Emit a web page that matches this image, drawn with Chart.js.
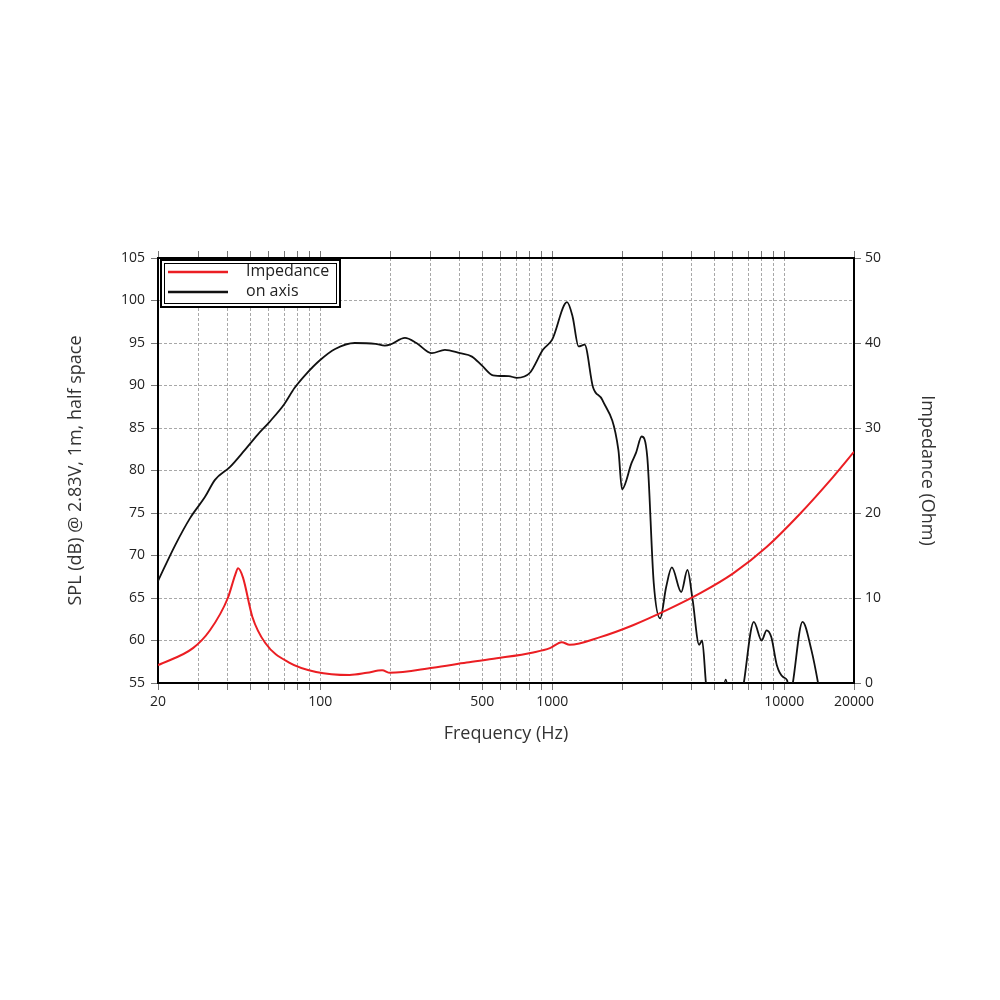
<!DOCTYPE html>
<html>
<head>
<meta charset="utf-8">
<script src="https://cdn.jsdelivr.net/npm/chart.js@4"></script>
<style>
  html, body { margin: 0; padding: 0; background: #fff; }
  #wrap { width: 1000px; height: 1000px; }
</style>
</head>
<body>
<div id="wrap"><canvas id="grafico" width="1000" height="1000"></canvas></div>
<script>
// on axis SPL (dB)
let spl_freq = [20, 23.7, 27.5, 31.9, 35.2, 40.8, 47.3, 53.7, 60.4, 70, 77.5, 86, 100, 116, 141, 173, 190, 200, 232, 260,
  303, 345, 400, 451, 500, 556, 650, 705, 802, 912, 1000, 1159, 1225, 1300, 1380, 1500, 1645, 1930, 2000, 2200,
  2300, 2430, 2570, 2740, 2920, 3100, 3280, 3600, 3830, 4030, 4300, 4430, 4600, 4800, 5300, 5600, 5900, 6300, 6700, 7400,
  8000, 8400, 8800, 9300, 9900, 10300, 10600, 10900, 12000, 13100, 14000, 15000, 20000];
let spl_db = [67.0, 71.2, 74.4, 76.9, 78.9, 80.4, 82.4, 84.2, 85.7, 87.8, 89.7, 91.2, 93.0, 94.3, 95.0, 94.9, 94.7, 94.8, 95.6, 95.0,
  93.8, 94.2, 93.8, 93.4, 92.3, 91.2, 91.1, 90.9, 91.5, 94.2, 95.4, 99.8, 98.1, 94.6, 94.8, 89.8, 88.3, 82.4, 77.8, 80.9,
  82.1, 84.0, 81.6, 66.8, 62.6, 66.3, 68.6, 65.7, 68.3, 64.8, 59.5, 60.0, 55, 50, 52, 55.4, 52, 50, 55, 62.2,
  60.0, 61.2, 60.4, 57.1, 55.7, 55.3, 53, 55, 62.2, 58.9, 55, 50, 45];

// Impedance (Ohm)
let imp_freq = [20, 28.3, 33.5, 40, 43, 44.3, 46.5, 51, 58, 73.5, 96, 134, 159, 185, 200, 306, 428, 577, 829, 978,
  1100, 1190, 1610, 2230, 3130, 4370, 6030, 8400, 11600, 16200, 20000];
let imp_ohm = [2.1, 4.1, 6.2, 10, 12.7, 13.5, 12.4, 7.8, 4.7, 2.4, 1.3, 0.94, 1.2, 1.5, 1.2, 1.8, 2.4, 2.9, 3.6, 4.1,
  4.8, 4.5, 5.4, 6.8, 8.6, 10.6, 12.9, 16, 19.8, 24.2, 27.2];

let grid_freqs = [20, 30, 40, 50, 60, 70, 80, 90, 100, 200, 300, 400, 500, 600, 700, 800, 900, 1000,
  2000, 3000, 4000, 5000, 6000, 7000, 8000, 9000, 10000, 20000];
let x_labels = [20, 100, 500, 1000, 10000, 20000];

let fuente = 'Open Sans, DejaVu Sans, sans-serif';

const pares = (xs, ys) => xs.map((x, i) => ({ x: x, y: ys[i] }));

const poner_ticks = (scale) => {
  scale.ticks = grid_freqs.map((v) => ({ value: v }));
};

const leyenda = {
  id: 'leyenda',
  afterDraw(chart) {
    const ctx = chart.ctx;
    const x0 = 161, y0 = 260, w = 179, h = 47;
    ctx.save();
    ctx.fillStyle = '#fff';
    ctx.fillRect(x0, y0, w, h);
    ctx.strokeStyle = '#000';
    ctx.lineWidth = 2;
    ctx.strokeRect(x0, y0, w, h);
    ctx.lineWidth = 1;
    ctx.strokeRect(x0 + 3.5, y0 + 3.5, w - 7, h - 7);
    chart.data.datasets.forEach((ds, i) => {
      const yy = 272 + i * 20;
      ctx.strokeStyle = ds.borderColor;
      ctx.lineWidth = 2.5;
      ctx.beginPath();
      ctx.moveTo(168, yy);
      ctx.lineTo(228, yy);
      ctx.stroke();
      ctx.fillStyle = '#222';
      ctx.font = '16px ' + fuente;
      ctx.textBaseline = 'middle';
      ctx.fillText(ds.label, 246, yy - 1);
    });
    ctx.restore();
  }
};

const rejilla = {
  color: '#a8a8a8',
  lineWidth: 1,
  tickBorderDash: [],
  tickColor: '#777',
  tickLength: 7
};

const borde = { display: true, color: '#000', width: 2, dash: [3, 2] };

const config = {
  type: 'line',
  data: {
    datasets: [{
      label: 'Impedance',
      data: pares(imp_freq, imp_ohm),
      borderColor: 'rgb(235, 30, 35)',
      borderWidth: 2,
      pointRadius: 0,
      cubicInterpolationMode: 'monotone',
      xAxisID: 'x',
      yAxisID: 'y2'
    }, {
      label: 'on axis',
      data: pares(spl_freq, spl_db),
      borderColor: '#111',
      borderWidth: 1.8,
      pointRadius: 0,
      cubicInterpolationMode: 'monotone',
      xAxisID: 'x',
      yAxisID: 'y'
    }]
  },
  options: {
    responsive: false,
    animation: false,
    events: [],
    layout: { padding: { left: 65, right: 62, top: 251, bottom: 255 } },
    plugins: { legend: { display: false }, tooltip: { enabled: false } },
    scales: {
      x: {
        type: 'logarithmic',
        min: 20, max: 20000,
        afterBuildTicks: poner_ticks,
        afterFit: (s) => { s.height = 62; },
        grid: rejilla,
        border: borde,
        ticks: {
          autoSkip: false, maxRotation: 0,
          color: '#222', font: { family: fuente, size: 14 }, padding: 4,
          callback: (v) => x_labels.includes(v) ? String(v) : ''
        },
        title: { display: true, text: 'Frequency (Hz)', color: '#333', font: { family: fuente, size: 18 }, padding: 0 }
      },
      xtop: {
        type: 'logarithmic',
        position: 'top',
        min: 20, max: 20000,
        afterBuildTicks: poner_ticks,
        afterFit: (s) => { s.height = 7; },
        grid: { drawOnChartArea: false, tickColor: '#777', tickLength: 7 },
        border: { display: true, color: '#000', width: 2 },
        ticks: { display: false }
      },
      y: {
        position: 'left',
        min: 55, max: 105,
        afterFit: (s) => { s.width = 93; },
        grid: rejilla,
        border: borde,
        ticks: { stepSize: 5, color: '#222', font: { family: fuente, size: 14 }, padding: 6 },
        title: { display: true, text: 'SPL (dB) @ 2.83V, 1m, half space', color: '#333', font: { family: fuente, size: 18 }, padding: 0 }
      },
      y2: {
        position: 'right',
        min: 0, max: 50,
        afterFit: (s) => { s.width = 84; },
        grid: { drawOnChartArea: false, tickColor: '#777', tickLength: 7 },
        border: { display: true, color: '#000', width: 2 },
        ticks: { stepSize: 10, color: '#222', font: { family: fuente, size: 14 }, padding: 4 },
        title: { display: true, text: 'Impedance (Ohm)', color: '#333', font: { family: fuente, size: 18 }, padding: 0 }
      }
    }
  },
  plugins: [leyenda]
};

let myChart = new Chart(document.querySelector('#grafico').getContext('2d'), config);
</script>
</body>
</html>
